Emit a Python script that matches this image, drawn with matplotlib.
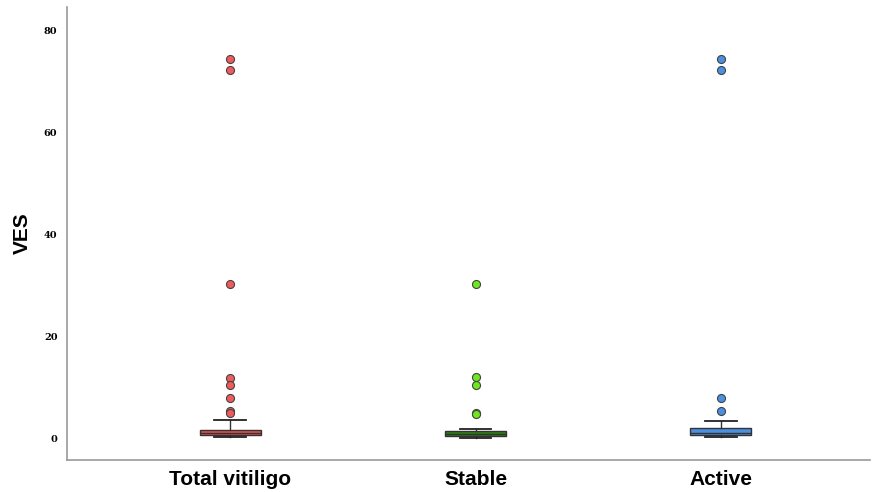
import matplotlib.pyplot as plt

groups = ['Total vitiligo', 'Stable', 'Active']
q1 = [0.65, 0.4, 0.6]
med = [1.0, 0.9, 1.0]
q3 = [1.65, 1.4, 2.05]
whislo = [0.15, 0.1, 0.15]
whishi = [3.5, 1.8, 3.4]
fliers = [
    [74.5, 72.3, 30.3, 11.8, 10.4, 7.8, 5.4, 4.9],
    [30.3, 12.0, 10.4, 5.0, 4.8],
    [74.5, 72.3, 7.8, 5.3],
]
box_colors = ['#e8504f', '#2f7f12', '#4a8fe0']
flier_colors = ['#f05a5a', '#6ee620', '#4a8fe0']

stats = []
for i in range(3):
    stats.append(dict(q1=q1[i], med=med[i], q3=q3[i], whislo=whislo[i],
                      whishi=whishi[i], fliers=fliers[i], label=groups[i]))

fig = plt.figure(figsize=(8.73, 4.92), dpi=100)
ax = fig.add_axes([0.077, 0.065, 0.92, 0.921])

bp = ax.bxp(stats, positions=[1, 2, 3], widths=0.25, patch_artist=True,
            capwidths=0.13,
            boxprops=dict(edgecolor='#333333', linewidth=1),
            medianprops=dict(color='#333333', linewidth=1),
            whiskerprops=dict(color='#333333', linewidth=1),
            capprops=dict(color='#222222', linewidth=1.3))
for i in range(3):
    bp['boxes'][i].set_facecolor(box_colors[i])
    bp['fliers'][i].set(marker='o', markersize=5.8, markerfacecolor=flier_colors[i],
                        markeredgecolor='#444444', markeredgewidth=0.8)

ax.set_xlim(0.335, 3.61)
ax.set_ylim(-4.3, 84.7)
ax.set_yticks([0, 20, 40, 60, 80])
ax.set_yticklabels(['0', '20', '40', '60', '80'], fontsize=7, fontweight='bold',
                   family='DejaVu Serif')
ax.set_xticks([1, 2, 3])
ax.set_xticklabels(groups, fontsize=15, fontweight='bold', family='Liberation Sans')
ax.tick_params(axis='both', length=0)
ax.tick_params(axis='y', pad=7)
ax.tick_params(axis='x', pad=7)
ax.set_ylabel('VES', fontsize=15, fontweight='bold', family='Liberation Sans')
ax.yaxis.set_label_coords(-0.044, 0.5)

for s in ['top', 'right']:
    ax.spines[s].set_visible(False)
for s in ['left', 'bottom']:
    ax.spines[s].set_color('#999999')
    ax.spines[s].set_linewidth(1.2)

fig.savefig('out.png', dpi=100)
